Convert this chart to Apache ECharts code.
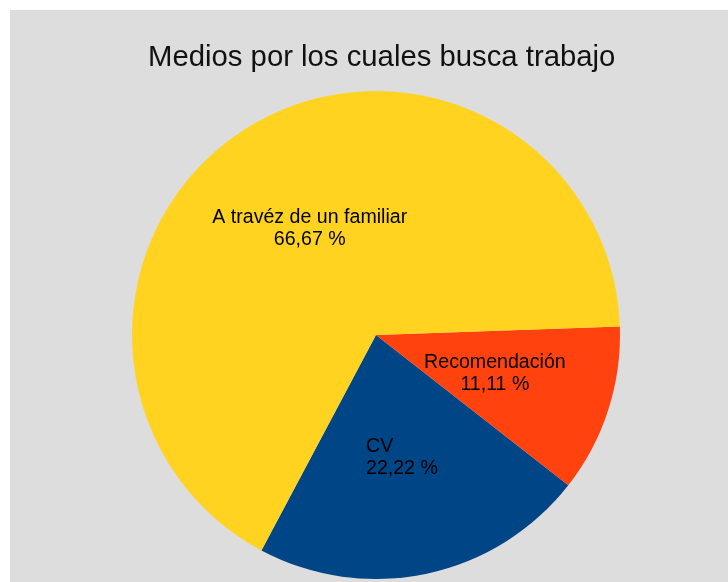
<!DOCTYPE html>
<html>
<head>
<meta charset="utf-8">
<script src="https://cdn.jsdelivr.net/npm/echarts@6/dist/echarts.min.js"></script>
<style>
  html, body { margin: 0; padding: 0; background: #ffffff; }
  #chart { position: absolute; left: 10px; top: 10px; width: 718px; height: 572px; }
</style>
</head>
<body>
<div id="chart"></div>
<script>
const categories = ['CV', 'Recomendación', 'A travéz de un familiar'];
const counts = [2, 1, 6];
const colors = ['#004586', '#ff420e', '#ffd320'];

const chart = echarts.init(document.getElementById('chart'));

const pieData = categories.map((name, i) => ({
  name: name,
  value: counts[i],
  itemStyle: { color: colors[i] }
}));

chart.setOption({
  animation: false,
  backgroundColor: '#dddddd',
  title: {
    text: 'Medios por los cuales busca trabajo',
    left: 133,
    top: 28,
    textStyle: {
      fontFamily: 'Liberation Sans',
      fontSize: 29.3,
      fontWeight: 'normal',
      color: '#111111'
    }
  },
  series: [
    {
      type: 'pie',
      center: [366, 325],
      radius: 244,
      startAngle: 242,
      clockwise: false,
      percentPrecision: 2,
      emphasis: { disabled: true },
      label: {
        position: 'inside',
        color: '#000000',
        fontFamily: 'Liberation Sans',
        fontSize: 19.6,
        lineHeight: 22,
        formatter: (p) => {
          const pct = p.percent.toFixed(2).replace('.', ',') + ' %';
          if (p.name === 'CV') {
            return '{l|' + p.name + '}\n{l|' + pct + '}';
          }
          return p.name + '\n' + pct;
        },
        rich: {
          l: {
            width: 72,
            align: 'left',
            color: '#000000',
            fontFamily: 'Liberation Sans',
            fontSize: 19.6,
            lineHeight: 22
          }
        }
      },
      labelLine: { show: false },
      data: pieData
    }
  ]
});
</script>
</body>
</html>
